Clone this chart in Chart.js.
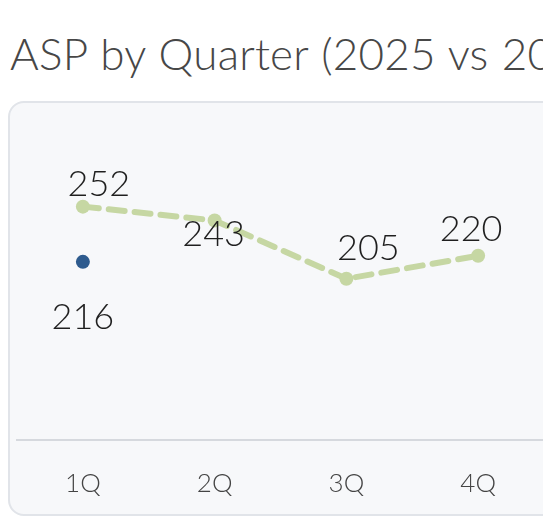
<!DOCTYPE html>
<html>
<head>
<meta charset="utf-8">
<script src="https://cdn.jsdelivr.net/npm/chart.js@4/dist/chart.umd.min.js"></script>
<style>
    html, body { margin: 0; padding: 0; background: #ffffff; overflow: hidden; width: 543px; height: 516px; }
    #titulo {
        position: absolute; left: 10px; top: 23px;
        font-family: Lato, sans-serif; font-weight: 300; font-size: 44px;
        letter-spacing: 0.2px; word-spacing: 1px;
        color: #474747; white-space: nowrap; line-height: 60px;
    }
    #painel {
        position: absolute; left: 8px; top: 101px; width: 560px; height: 411px;
        border: 2px solid #e1e4e9; border-radius: 16px; background: #f7f8fa;
    }
    #caixaGrafico { position: absolute; left: 0; top: 0; width: 541px; height: 416px; }
</style>
</head>
<body>
<div id="titulo">ASP by Quarter (2025 vs 2024)</div>
<div id="painel">
    <div id="caixaGrafico"><canvas id="graficoAsp"></canvas></div>
</div>
<script>
const trimestres = ['1Q', '2Q', '3Q', '4Q']
const asp2025 = [216, null, null, null]
const asp2024 = [252, 243, 205, 220]

// deslocamento dos rotulos em relacao ao ponto (px)
const deslocamentos = {
    0: [[0, 56], null, null, null],
    1: [[16, -22], [-1, 14], [22, -30], [-7, -26]]
}

const pluginRotulos = {
    id: 'rotulos',
    afterDatasetsDraw(chart) {
        const ctx = chart.ctx
        ctx.save()
        ctx.font = '300 36px Lato, sans-serif'
        ctx.fillStyle = '#1f1f1f'
        ctx.textAlign = 'center'
        ctx.textBaseline = 'middle'
        chart.data.datasets.forEach((ds, i) => {
            const meta = chart.getDatasetMeta(i)
            meta.data.forEach((ponto, j) => {
                const valor = ds.data[j]
                const desl = deslocamentos[i][j]
                if (valor == null || desl == null) return
                ctx.fillText(String(valor), ponto.x + desl[0], ponto.y + desl[1])
            })
        })
        ctx.restore()
    }
}

const configuracao = {
    type: 'line',
    data: {
        labels: trimestres,
        datasets: [
            {
                label: '2025',
                data: asp2025,
                borderColor: '#2e5b8e',
                backgroundColor: '#2e5b8e',
                pointRadius: 7,
                pointBorderWidth: 0,
                showLine: false
            },
            {
                label: '2024',
                data: asp2024,
                borderColor: '#c6d7a3',
                backgroundColor: '#c6d7a3',
                borderWidth: 6,
                borderDash: [16, 10],
                borderCapStyle: 'round',
                pointRadius: 7,
                pointBorderWidth: 0,
                tension: 0
            }
        ]
    },
    options: {
        responsive: true,
        maintainAspectRatio: false,
        animation: false,
        layout: { padding: { top: 30, left: 3, right: 1, bottom: 0 } },
        plugins: {
            legend: { display: false },
            tooltip: { enabled: false }
        },
        scales: {
            x: {
                offset: true,
                grid: { display: false },
                border: { display: true, color: '#d6d9de', width: 2 },
                ticks: {
                    color: '#444444',
                    padding: 20,
                    font: { family: 'Lato, sans-serif', weight: '300', size: 26 }
                }
            },
            y: {
                display: false,
                min: 100,
                max: 300
            }
        }
    },
    plugins: [pluginRotulos]
}

new Chart(document.getElementById('graficoAsp'), configuracao)
</script>
</body>
</html>
